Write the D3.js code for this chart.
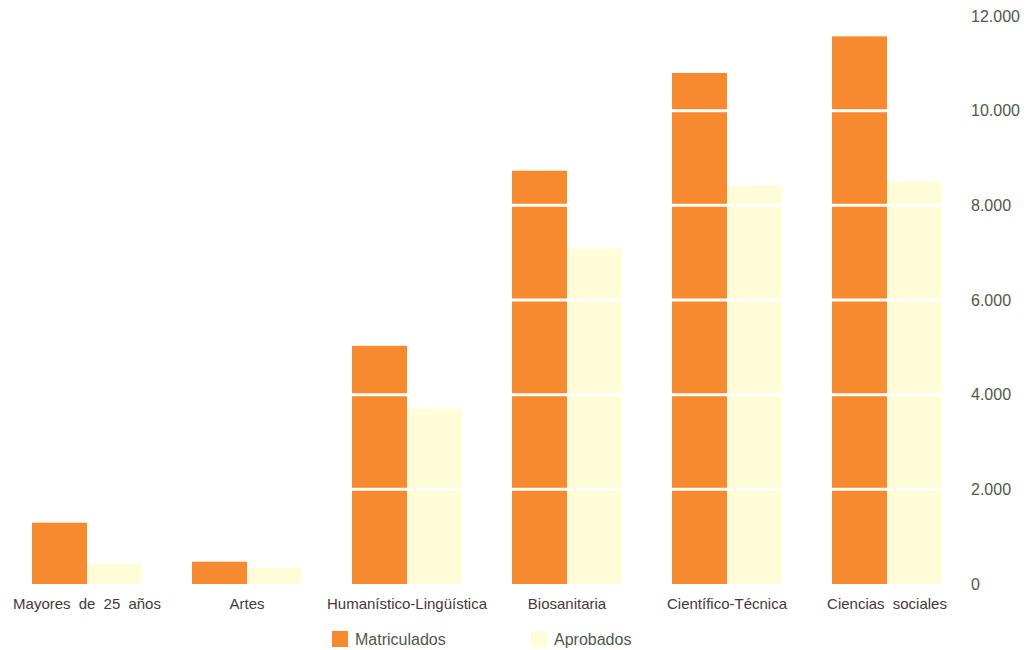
<!DOCTYPE html>
<html><head><meta charset="utf-8">
<script src="https://cdn.jsdelivr.net/npm/d3@7"></script>
<style>
html,body{margin:0;padding:0;background:#fff;}
svg{display:block;font-family:"Liberation Sans",Arial,Helvetica,sans-serif;}
svg text{font-family:"Liberation Sans",Arial,Helvetica,sans-serif;}
</style></head>
<body>
<svg id="chart" width="1034" height="650"></svg>
<script>
const categories = ["Mayores de 25 años","Artes","Humanístico-Lingüística","Biosanitaria","Científico-Técnica","Ciencias sociales"];
const seriesNames = ["Matriculados","Aprobados"];
const matriculados = [1295, 471, 5032, 8731, 10797, 11570];
const aprobados = [416, 345, 3700, 7082, 8414, 8505];
const yTicks = [0, 2000, 4000, 6000, 8000, 10000, 12000];
const colors = ["#F7892F", "#FFFDD8"];

const svg = d3.select("#chart");
const x = d3.scaleBand().domain(categories).range([7, 967]).paddingInner(0.3125).paddingOuter(0.15625);
const xs = d3.scaleBand().domain(seriesNames).range([0, x.bandwidth()]).padding(0);
const y = d3.scaleLinear().domain([0, 12000]).range([584, 16]);

const data = categories.map((c, i) => ({cat: c, vals: [matriculados[i], aprobados[i]]}));

const g = svg.append("g");
g.selectAll("g.grp").data(data).join("g").attr("class","grp")
  .attr("transform", d => `translate(${x(d.cat)},0)`)
  .selectAll("rect").data(d => d.vals.map((v, k) => ({v, k})))
  .join("rect")
  .attr("x", d => xs(seriesNames[d.k]))
  .attr("width", xs.bandwidth())
  .attr("y", d => y(d.v))
  .attr("height", d => y(0) - y(d.v))
  .attr("fill", d => colors[d.k]);

// white gridlines drawn over the bars
svg.append("g").selectAll("line").data(yTicks.filter(t => t > 0))
  .join("line")
  .attr("x1", 7).attr("x2", 960)
  .attr("y1", d => y(d)).attr("y2", d => y(d))
  .attr("stroke", "#fff").attr("stroke-width", 3);

// right axis labels
const fmt = d3.formatLocale({decimal: ",", thousands: ".", grouping: [3], currency: ["", "€"]}).format(",d");
const yAxis = d3.axisRight(y).tickValues(yTicks).tickFormat(fmt).tickSize(0).tickPadding(0);
const ya = svg.append("g").attr("transform", "translate(971,0)").call(yAxis);
ya.select(".domain").remove();
ya.selectAll("text").attr("font-size", 16).attr("fill", "#4d5a48").attr("font-family", null);

// x axis labels
const xAxis = d3.axisBottom(x).tickSize(0).tickPadding(0);
const xa = svg.append("g").attr("transform", "translate(0,598)").call(xAxis);
xa.select(".domain").remove();
xa.selectAll("text").attr("font-size", 15).attr("fill", "#463838").attr("font-family", null)
  .style("word-spacing", "4px");

// legend
const legendX = [332, 531];
const lg = svg.append("g").selectAll("g").data(seriesNames).join("g")
  .attr("transform", (d, i) => `translate(${legendX[i]},631)`);
lg.append("rect").attr("width", 16).attr("height", 16).attr("fill", (d, i) => colors[i]);
lg.append("text").attr("x", 23).attr("y", 14).attr("font-size", 16).attr("fill", "#4d5a48").text(d => d);
</script>
</body></html>
